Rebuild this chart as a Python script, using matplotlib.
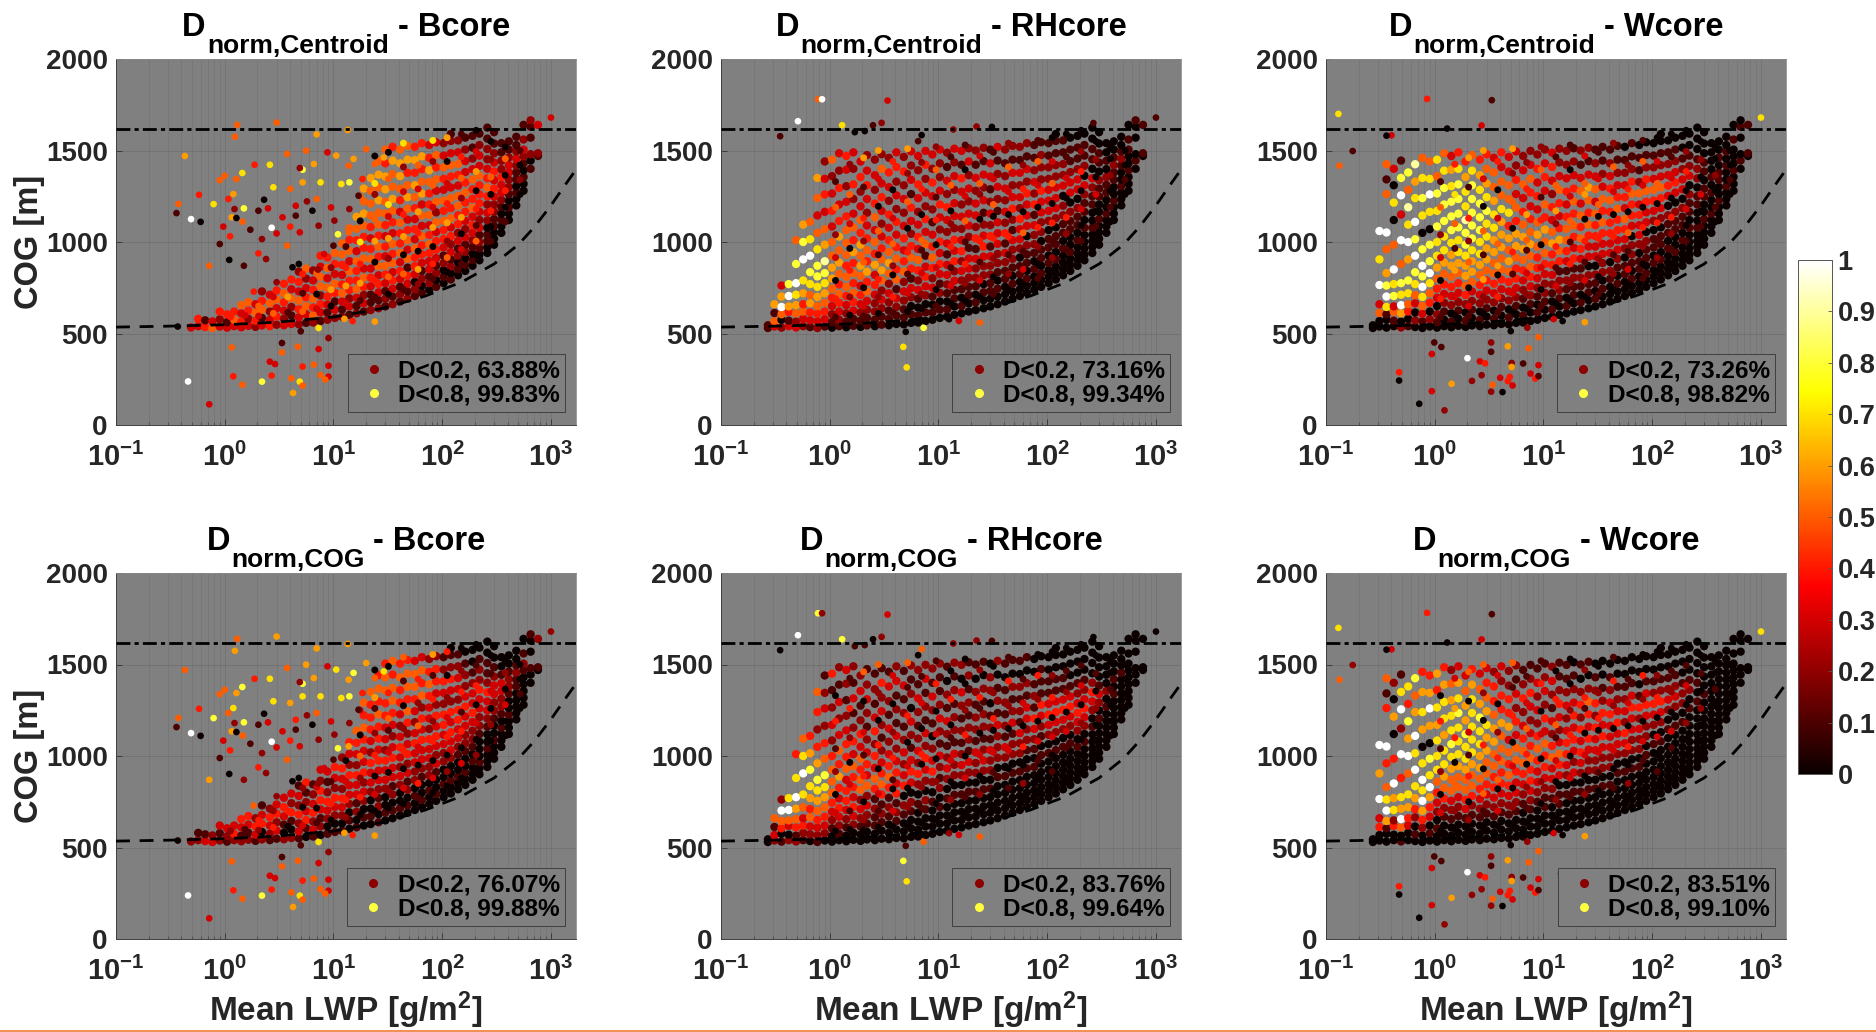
import matplotlib
matplotlib.use("Agg")
import matplotlib.pyplot as plt
from matplotlib.lines import Line2D
from matplotlib.cm import ScalarMappable
from matplotlib.colors import Normalize

plt.rcParams['font.family'] = ['Liberation Sans', 'DejaVu Sans']
plt.rcParams['font.weight'] = 'bold'
plt.rcParams['axes.labelweight'] = 'bold'
plt.rcParams['mathtext.fontset'] = 'custom'
plt.rcParams['mathtext.bf'] = 'Liberation Sans:bold'
plt.rcParams['mathtext.rm'] = 'Liberation Sans:bold'
plt.rcParams['mathtext.default'] = 'bf'

# dashed curve and dash-dot level
curve_lwp = [0.1, 0.3, 1, 3, 10, 30, 70, 150, 300, 500, 700, 1000, 1400, 1700, 1900]
curve_cog = [535, 540, 548, 562, 590, 640, 705, 780, 880, 985, 1080, 1200, 1325, 1395, 1440]
level_cog = 1620

# main cloud, column by column, bottom to top
cloud_lwp = [.27, .31, .36, .42, .49, .57, .66, .77, .9, 1.05, 1.22, 1.42, 1.65, 1.92, 2.2, 2.6, 3.0, 3.5,
             4.1, 4.8, 5.6, 6.5, 7.6, 8.8, 10.3, 12, 14, 16.3, 19, 22, 26, 30, 35, 41, 48, 56, 65, 76, 88,
             103, 120, 140, 163, 190, 220, 260, 300, 350, 410, 480, 560, 650, 760]
cloud_cog = [
    [530, 545],
    [538, 568, 612, 660, 765, 905, 1060],
    [532, 575, 605, 645, 702, 762, 830, 960, 1052, 1262, 1342, 1425],
    [540, 570, 618, 648, 705, 770, 850, 985, 1120, 1215, 1310, 1400],
    [533, 565, 610, 655, 712, 775, 880, 1010, 1150, 1255, 1350, 1445],
    [540, 580, 620, 660, 720, 790, 905, 1000, 1095, 1190, 1285, 1380, 1480],
    [535, 572, 615, 665, 710, 770, 835, 925, 1015, 1110, 1240, 1330, 1425],
    [530, 566, 608, 650, 700, 755, 812, 870, 960, 1050, 1145, 1240, 1350, 1460],
    [538, 578, 620, 668, 720, 775, 830, 895, 985, 1070, 1165, 1260, 1345, 1440],
    [532, 562, 605, 650, 695, 745, 800, 860, 925, 1000, 1085, 1170, 1265, 1360, 1450],
    [540, 575, 620, 668, 716, 768, 826, 888, 955, 1030, 1115, 1205, 1295, 1390, 1485],
    [534, 565, 610, 655, 705, 755, 810, 870, 930, 995, 1065, 1140, 1220, 1305, 1395, 1470],
    [542, 580, 625, 672, 722, 775, 830, 885, 945, 1010, 1080, 1155, 1235, 1315, 1400, 1490],
    [536, 570, 615, 660, 710, 760, 815, 870, 925, 985, 1050, 1120, 1195, 1275, 1355, 1440],
    [544, 585, 630, 678, 730, 782, 838, 895, 955, 1020, 1090, 1160, 1235, 1310, 1390, 1475],
    [540, 575, 620, 665, 712, 765, 820, 875, 935, 1000, 1065, 1135, 1210, 1285, 1365, 1450],
    [548, 592, 638, 685, 735, 790, 845, 905, 965, 1030, 1100, 1170, 1245, 1320, 1400, 1480],
    [545, 580, 625, 670, 720, 772, 828, 885, 945, 1010, 1078, 1150, 1225, 1300, 1380, 1460],
    [552, 598, 645, 692, 742, 795, 850, 910, 972, 1040, 1110, 1180, 1255, 1330, 1410, 1490],
    [550, 588, 632, 680, 730, 782, 838, 895, 955, 1020, 1088, 1160, 1235, 1310, 1385, 1465],
    [558, 605, 650, 698, 748, 800, 855, 915, 978, 1045, 1115, 1188, 1262, 1340, 1418, 1495],
    [560, 598, 642, 690, 738, 790, 845, 902, 962, 1028, 1095, 1165, 1240, 1315, 1392, 1470],
    [568, 615, 660, 708, 758, 810, 865, 925, 988, 1055, 1125, 1195, 1270, 1345, 1422, 1498],
    [575, 615, 658, 702, 750, 802, 858, 915, 975, 1040, 1108, 1178, 1250, 1325, 1400, 1478],
    [585, 630, 675, 722, 772, 825, 880, 940, 1002, 1068, 1135, 1205, 1280, 1355, 1430, 1505],
    [592, 632, 675, 720, 768, 820, 875, 932, 992, 1055, 1120, 1190, 1262, 1335, 1410, 1488],
    [602, 648, 692, 738, 788, 840, 895, 952, 1012, 1075, 1142, 1212, 1285, 1360, 1435, 1510],
    [610, 650, 695, 742, 790, 842, 895, 950, 1010, 1072, 1138, 1205, 1275, 1348, 1422, 1498],
    [620, 665, 710, 755, 805, 855, 910, 968, 1028, 1090, 1155, 1222, 1292, 1365, 1440, 1512],
    [628, 670, 712, 758, 805, 855, 908, 962, 1020, 1082, 1145, 1210, 1280, 1350, 1422, 1500],
    [638, 682, 725, 770, 818, 868, 920, 975, 1035, 1095, 1160, 1228, 1298, 1368, 1442, 1515],
    [648, 690, 732, 775, 822, 870, 922, 975, 1032, 1092, 1155, 1220, 1288, 1358, 1430, 1505],
    [660, 702, 745, 790, 835, 885, 935, 990, 1048, 1108, 1170, 1235, 1302, 1372, 1445, 1520],
    [675, 715, 755, 798, 842, 890, 940, 992, 1048, 1105, 1165, 1228, 1292, 1360, 1430, 1505],
    [690, 730, 772, 815, 860, 908, 958, 1010, 1065, 1122, 1182, 1245, 1310, 1378, 1450, 1525],
    [705, 742, 782, 824, 868, 915, 965, 1015, 1070, 1125, 1185, 1245, 1310, 1378, 1448, 1520],
    [722, 760, 800, 842, 886, 932, 982, 1032, 1088, 1145, 1205, 1265, 1330, 1398, 1468, 1540],
    [738, 775, 812, 852, 895, 940, 988, 1038, 1092, 1148, 1205, 1265, 1328, 1392, 1460, 1530],
    [755, 792, 830, 870, 912, 958, 1005, 1055, 1108, 1162, 1220, 1280, 1342, 1408, 1475, 1545],
    [775, 810, 846, 885, 926, 970, 1016, 1065, 1116, 1170, 1226, 1285, 1345, 1408, 1472, 1540],
    [795, 830, 866, 905, 945, 988, 1032, 1080, 1130, 1185, 1240, 1298, 1358, 1420, 1485, 1552, 1590],
    [818, 852, 888, 925, 965, 1006, 1050, 1098, 1146, 1198, 1252, 1308, 1366, 1426, 1490, 1555],
    [842, 875, 910, 946, 985, 1026, 1070, 1115, 1165, 1216, 1270, 1325, 1382, 1442, 1505, 1570],
    [870, 902, 936, 972, 1010, 1050, 1092, 1138, 1186, 1236, 1288, 1342, 1398, 1456, 1516, 1580],
    [900, 932, 965, 1000, 1038, 1078, 1120, 1165, 1212, 1260, 1310, 1362, 1416, 1472, 1530, 1592],
    [940, 972, 1005, 1040, 1078, 1118, 1160, 1205, 1250, 1298, 1348, 1400, 1452, 1508, 1565, 1625],
    [985, 1018, 1052, 1088, 1125, 1165, 1205, 1248, 1292, 1338, 1385, 1434, 1485, 1538, 1600],
    [1050, 1085, 1120, 1155, 1192, 1230, 1270, 1312, 1355, 1398, 1444, 1490, 1540],
    [1120, 1155, 1190, 1226, 1262, 1300, 1340, 1380, 1420, 1462, 1505, 1550],
    [1200, 1235, 1270, 1305, 1342, 1380, 1418, 1455, 1495, 1530, 1575],
    [1280, 1318, 1355, 1392, 1430, 1468, 1505, 1560, 1640],
    [1400, 1445, 1480, 1570, 1630, 1665],
    [1470, 1485, 1640],
]

# D of the cloud points in tenths (a = 1.0), one string per column; a shorter string
# means that the panel has no points higher up in that column
d_cloud_centroid_b = [
    "", "", "", "", "3", "34", "41", "53", "324", "314", "354", "3435", "3245", "2453", "31542", "43253", "24354",
    "323454", "312534", "2345342", "1354325", "2545432", "13425534", "21345354", "23145345", "213543455",
    "1324453545", "21354453456", "1324535445656", "21134354345556", "213435454556565", "1213453434556645",
    "2134354534565564", "1213435445345665", "2134153543565465", "1203445343456464", "1021344535365464",
    "0213345435445643", "1021344352535453", "0102134454534532", "10213243545345321", "0102132445534532",
    "0102132344543321", "0101234354453211", "0012132344453321", "0011023245432211", "000112234343211",
    "0010123342211", "001012233211", "00101123211", "001012321", "102112", "123"]
d_cloud_cog_b = [
    "", "", "", "", "2", "21", "31", "32", "213", "123", "243", "2134", "2134", "1342", "20431", "12342", "13243",
    "201343", "201423", "1324231", "0143214", "1324321", "02134423", "10234213", "10234234", "102342342",
    "0102334234", "10213342345", "0102324334545", "01002334234445", "102123343445454", "0100233423344554",
    "0102133432345545", "0100232343234454", "0102132432454554", "0010223343234553", "0100123343425453",
    "0010223342334542", "0100132343423442", "0010022334423421", "00100233434234210", "0010012334423321",
    "0010012233432210", "0001012234332100", "0010001223342210", "0001001233421100", "000100122332100",
    "0001012233100", "000100122100", "00000112100", "000001210", "001001", "012"]
d_cloud_centroid_rh = [
    "11", "3516", "205a63", "3146a8", "32567a85", "235467a86", "1346578a75", "2345678875356", "13456789653432",
    "012345665534325", "123454565643423", "0123455455543234", "1134545464532423", "0123435656453243",
    "1123546454323432", "0122343645354232", "1123256543234352", "0112325654342342", "0123154543423243",
    "0112325434323242", "0102314542341323", "0101324534323423", "0102343153423243", "0101324543123423",
    "0102134342343223", "0101233132342312", "0011324342332323", "0101232432323413", "0011233123323232",
    "0101223142332312", "0010223432132312", "0011223142321331", "0010122333123213", "0001123142323212",
    "0010122312432312", "0001102334232312", "0010112033342312", "0001012231423211", "0010110223342221",
    "0001011023332211", "00010110233322110", "0000101122032211", "0001001120332110", "0000101120332110",
    "0000010112302110", "0000100112301100", "000010011201100", "0001001120100", "000100112100", "00010012100",
    "000100110", "010001", "011"]
d_cloud_cog_rh = [
    "00", "2315", "1045a2", "2035a7", "21456a74", "124357a75", "0235467864", "1234567864245", "02345678542321",
    "001234555423214", "012343464532312", "0012344354432123", "0023434453421312", "0012325545342132",
    "0012325343212321", "0011214534243121", "0012145432123241", "0001214543231231", "0012143432312132",
    "0001204323212131", "0001203431230212", "0000102423212312", "0001202342312132", "0000102432012312",
    "0001021231232112", "0000102321231201", "0000102231221212", "0000102321212302", "0000102312212121",
    "0000102231221201", "0000102321221201", "0000102231210220", "0000010222312102", "0000010231212101",
    "0000010221321201", "0000010223121201", "0000010122331201", "0000010123412100", "0000001012341110",
    "0000001023431100", "00000010234311000", "0000001023431100", "0000001023431000", "0000010234321000",
    "0000010234321000", "0000001023420000", "000000102310000", "0000001020000", "000000101000", "00000001000",
    "000000000", "000000", "000"]
d_cloud_centroid_w = [
    "00", "0053a7a", "0017a865a515", "015387a50703", "206a785a3a81", "1045786a7958", "0203578a8a769",
    "01357a8a807875", "020457a8807a75", "012034567787857", "001234567788875", "0102345667888763",
    "0012345677888874", "0102456678897764", "0012356678888875", "0102345677888764", "0012345667787654",
    "0102345566776553", "0012345566675534", "0102345656475533", "0012344566453423", "0101234566543532",
    "0012345565434532", "0101234456534342", "0012234556453432", "0101234465342343", "0012214564345322",
    "0101213455434322", "0011214345454321", "0101213454535312", "0011203345456312", "0101203344535321",
    "0010223345453211", "0001203344454321", "0010123344543211", "0001102345343210", "0010122034454211",
    "0001102334352110", "0010112033454210", "0001011023453210", "00010110234532100", "0000101120343210",
    "0001001120343210", "0000101120332100", "0000010112032100", "0000100110221000", "000010011011000",
    "0001001010000", "000100110100", "00010010100", "000100010", "010010", "011"]
d_cloud_cog_w = [
    "00", "0043a6a", "0016a754a415", "004276a40602", "105a674a2a71", "0034675a6847", "0102467a7a658",
    "00246a7a706764", "010346a7806a64", "001023457776746", "000124567767764", "0001235567877652",
    "0001235567778763", "0001345567786653", "0001245567777764", "0001234566778653", "0001234556676543",
    "0001234455665442", "0001234455564423", "0001234545364422", "0001233455342312", "0000123455432421",
    "0001234454323421", "0000123345423231", "0001123445342321", "0000123354231232", "0001103453234211",
    "0000102344323211", "0000103234343210", "0000102343424201", "0000102234345201", "0000102233424210",
    "0000102234342100", "0000102233343210", "0000010233432100", "0000010234232100", "0000010223343100",
    "0000010223241000", "0000001022343100", "0000000102342100", "00000001023421000", "0000000010232100",
    "0000000010232100", "0000000010221000", "0000000001021000", "0000000001010000", "000000000100000",
    "0000000000000", "000000000000", "00000000000", "000000000", "000000", "000"]

# more cloud points lying between the columns above
fill_lwp = [1.13, 1.53, 2.05, 2.8, 3.8, 5.2, 7, 9.5, 13, 17.6, 24, 32, 44, 60, 82, 111, 150, 205, 280, 380, 520]
fill_cog = [
    [590, 690, 790, 915, 1040, 1190, 1330],
    [600, 700, 845, 965, 1100, 1260, 1425],
    [595, 650, 750, 890, 1005, 1130, 1300, 1460],
    [610, 700, 795, 930, 1060, 1195, 1345, 1500],
    [615, 700, 820, 870, 990, 1130, 1285, 1440],
    [620, 720, 825, 945, 1075, 1220, 1375, 1510],
    [635, 715, 830, 955, 1010, 1150, 1290, 1435],
    [650, 740, 860, 985, 1120, 1245, 1395, 1520],
    [665, 760, 860, 975, 1100, 1170, 1310, 1465],
    [680, 775, 880, 1000, 1115, 1250, 1395, 1530],
    [700, 790, 890, 1005, 1125, 1260, 1320, 1470],
    [715, 810, 910, 1020, 1140, 1205, 1345, 1490],
    [740, 825, 930, 1030, 1150, 1275, 1410, 1540],
    [770, 850, 950, 1050, 1165, 1290, 1420],
    [800, 880, 975, 1080, 1190, 1310, 1440, 1555],
    [835, 915, 1005, 1105, 1210, 1320, 1440, 1570],
    [880, 960, 1045, 1135, 1240, 1350, 1465, 1590],
    [930, 1005, 1090, 1180, 1280, 1385, 1495, 1610],
    [1005, 1085, 1170, 1260, 1355, 1450, 1550],
    [1110, 1190, 1280, 1365, 1455, 1520],
    [1260, 1340, 1420, 1500],
]
d_fill_centroid_b = ["4", "3", "35", "53", "16", "514", "305", "062", "3641", "164705", "14065270", "05263750",
                     "15064327", "2604635", "14063527", "05264306", "13062541", "05140630", "1040520", "104050", "0201"]
d_fill_cog_b = ["2", "1", "24", "42", "04", "302", "103", "041", "2430", "042503", "03042160", "02031540",
                "03042015", "1403524", "03042416", "02043204", "03041420", "02030410", "0020310", "003020", "0100"]
d_fill_centroid_rh = ["1403251", "0240352", "13052416", "02415036", "14025304", "03140526", "02315042", "10304152",
                      "03142051", "02415301", "03140253", "10240531", "02140352", "0315042", "10240351", "02140530",
                      "01240310", "01030420", "0103020", "010200", "0100"]
d_fill_cog_rh = ["0302140", "0130241", "02041305", "01304025", "03014203", "02030415", "01204031", "00203041",
                 "02031040", "01304200", "02030142", "00130420", "01030241", "0204031", "00130240", "01030420",
                 "00130210", "00020310", "0002010", "000100", "0000"]
d_fill_centroid_w = ["1403251", "0361574", "13052416", "02615036", "14065304", "03140526", "02315642", "10304152",
                     "03142651", "02415301", "03140653", "10240531", "02140352", "0315042", "10240351", "02140530",
                     "01240310", "01030420", "0103020", "010200", "0100"]
d_fill_cog_w = ["0302140", "0250463", "02041305", "01504025", "03054203", "02030415", "01204531", "00203041",
                "02031540", "01304200", "02030142", "00130420", "01030241", "0204031", "00130240", "01030420",
                "00130210", "00020310", "0002010", "000100", "0000"]

# points outside the cloud, per core
out_b_lwp = [.375, .36, .43, .49, .6, .46, .72, .37, 1.3, 3, 1.24, 7, 13.5, .79, .58, .9, 1, 1.28, 1.45, 1.08, 1.2,
             1.16, 1.28, 1.23, 1.5, .97, 1.12, .9, 1.1, .72, 1.5, 1.46, 1.88, 2.6, 2.8, 2.3, 2.04, 2.5, 1.72, 2.2,
             2.04, 2.4, 2.7, 3, 3.75, 4, 3.4, 4.5, 4.5, 5.7, 7, 7.6, 5.2, 6.6, 5.6, 3.75, 4.9, 4, 5.2, 7.3, 4.9,
             6.4, 9.5, 10.2, 11, 8.2, 10, 4.2, 4.8, 7.2, 3, 1.85, 10.6, 8.8, 14, 15.3, 11.8, 13.8, 20, 29, 24,
             18.5, 17, 14, 13.8, 1.16, 3.36, 3.36, 4.7, 9, 7.3, 7.3, 5, 2.6, 2.9, 5.2, 6.6, 9, 14.6, 1.2, 1.45,
             2.2, 2.7, 4.1, 4.9, 5.2, 4.25, 7.6, 9, 8.4, 12.6, 15, 24, 1000]
out_b_cog = [1208, 1158, 1470, 1125, 1110, 238, 113, 538, 1640, 1653, 1575, 1588, 1612, 1207, 1258, 1338, 1362,
             1344, 1377, 1235, 1262, 1135, 1131, 1180, 1184, 1084, 1031, 989, 902, 870, 870, 1111, 1422, 1422,
             1299, 1231, 1171, 1184, 1067, 1016, 938, 907, 1078, 1047, 980, 1084, 1135, 1144, 1198, 1222, 1235,
             1326, 1395, 1426, 1499, 1481, 1404, 1290, 1326, 1089, 1053, 1171, 1189, 1117, 1042, 934, 980, 862,
             880, 849, 780, 729, 1472, 1490, 1326, 1454, 1317, 1417, 1508, 1462, 1426, 1344, 1253, 1180, 1053,
             424, 448, 397, 428, 475, 415, 530, 512, 346, 333, 319, 330, 324, 355, 266, 220, 237, 270, 255, 237,
             215, 175, 273, 264, 248, 580, 568, 565, 1680]
d_out_b_centroid = ("516a0a30" "55566" "7455574660283410515"
                    "4770131242a35431325786552562303283100224" "6386755654125"
                    "5155237133453245845756535646" "3")
d_out_b_cog = ("515a0a30" "56666" "8455685760283410625"
               "4770131242a35431425786652672303283100225" "7388766754126"
               "5155237133453245845756535646" "2")

out_rh_lwp = [.78, .85, 3.4, .51, 1.3, .35, 1.7, 3, 2.5, 2.1, 6.5, 7, 13.7, 22.4, 31, 266, 5, 4.75, 5.1, 7.3, 15.4,
              24, 12.5, 1000]
out_rh_cog = [1780, 1780, 1773, 1660, 1638, 1578, 1600, 1651, 1638, 1606, 1551, 1584, 1615, 1631, 1629, 1650, 509,
              427, 315, 531, 569, 560, 578, 1680]
d_out_rh_centroid = "5a3a71021010220107783501"
d_out_rh_cog = "823a80120105221018753520"

out_w_lwp = [.13, .133, .176, .85, 3.35, 2.7, 1.3, .4, .36, 5, .99, 1.15, 3.3, 3.3, 4.7, 7.3, 9, 7.1, .94, 2, 2.6,
             2.9, 5.1, 5.1, 6.5, 9, .47, .47, 1.43, 2.2, 2.7, 4, 3.4, 4.9, 4.7, 5.2, 7.6, 8.4, 9, 3.3, 4.2, .94,
             .72, 1.23, 14.5, 12.4, 15, 24, 1000]
out_w_cog = [1700, 1417, 1497, 1782, 1775, 1637, 1620, 1583, 1581, 513, 451, 426, 451, 400, 430, 419, 480, 532, 388,
             365, 348, 337, 339, 317, 336, 327, 288, 243, 225, 241, 272, 258, 220, 263, 240, 216, 281, 254, 267,
             182, 180, 185, 116, 80, 357, 579, 568, 562, 1680]
d_out_w_centroid = "7514130300112165523a342613406223544334120302130678" + "0"
d_out_w_cog = "7524130300112165523a342613406223544334120302130678" + "0"

titles_top = ["Centroid", "Centroid", "Centroid"]
titles_bottom = ["COG", "COG", "COG"]
core_names = ["Bcore", "RHcore", "Wcore"]
legend_d02 = [["63.88", "73.16", "73.26"], ["76.07", "83.76", "83.51"]]
legend_d08 = [["99.83", "99.34", "98.82"], ["99.88", "99.64", "99.10"]]
cbar_ticks = [0, 0.1, 0.2, 0.3, 0.4, 0.5, 0.6, 0.7, 0.8, 0.9, 1]
cbar_labels = ["0", "0.1", "0.2", "0.3", "0.4", "0.5", "0.6", "0.7", "0.8", "0.9", "1"]

W, H = 1876, 1032
text_col = '#262626'


def to_d(s):
    return [int(c, 16) / 10 for c in s]


def columns(lwp, cog, d):
    xs, ys, ds = [], [], []
    for x, col, s in zip(lwp, cog, d):
        for y, v in zip(col, to_d(s)):
            xs.append(x)
            ys.append(y)
            ds.append(v)
    return xs, ys, ds


def put_title(px, py, title, core):
    # D, subscript and core name are set one after the other, the subscript is bigger than mathtext allows
    r = fig.canvas.get_renderer()
    base = 1 - (py - 23) / H
    low = 1 - (py - 6) / H
    a = fig.text(0, base, "D", fontsize=23.5, color='k', va='baseline')
    b = fig.text(0, low, "norm," + title, fontsize=19, color='k', va='baseline')
    c = fig.text(0, base, "- " + core, fontsize=23.5, color='k', va='baseline')
    wa = a.get_window_extent(r).width
    wb = b.get_window_extent(r).width
    wc = c.get_window_extent(r).width
    x = px + 230 - (wa + wb + wc + 10) / 2
    a.set_x(x / W)
    b.set_x((x + wa + 1) / W)
    c.set_x((x + wa + wb + 10) / W)


def panel(px, py, cloud_d, fill_d, o_lwp, o_cog, o_d, title, core, p02, p08, ylab, xlab):
    ax = fig.add_axes([px / W, 1 - (py + 366) / H, 460 / W, 366 / H])
    ax.set_facecolor('#808080')

    xs, ys, ds = columns(cloud_lwp, cloud_cog, cloud_d)
    ax.scatter(xs, ys, c=ds, s=36, cmap='hot', vmin=0, vmax=1, linewidths=0, zorder=3)
    xs, ys, ds = columns(fill_lwp, fill_cog, fill_d)
    ax.scatter(xs, ys, c=ds, s=25, cmap='hot', vmin=0, vmax=1, linewidths=0, zorder=3)
    ax.scatter(o_lwp, o_cog, c=to_d(o_d)[:len(o_lwp)], s=23, cmap='hot', vmin=0, vmax=1, linewidths=0, zorder=3)

    ax.plot(curve_lwp, curve_cog, color='k', ls=(0, (5, 3.5)), lw=2, zorder=4)
    ax.axhline(level_cog, color='k', ls=(0, (5, 1.5, 1.5, 1.5)), lw=2, zorder=4)

    ax.set_xscale('log')
    ax.set_xlim(0.1, 1700)
    ax.set_ylim(0, 2000)
    ax.set_yticks([0, 500, 1000, 1500, 2000])
    ax.set_xticks([0.1, 1, 10, 100, 1000])
    ax.set_xticklabels([r"$10^{-1}$", r"$10^{0}$", r"$10^{1}$", r"$10^{2}$", r"$10^{3}$"])
    ax.tick_params(axis='y', which='major', labelsize=20, labelcolor=text_col, length=4, width=0.6,
                   direction='in', color='#333333', pad=6)
    ax.tick_params(axis='x', which='major', labelsize=21, labelcolor=text_col, length=4, width=0.6,
                   direction='in', color='#333333', pad=13)
    ax.tick_params(axis='x', which='minor', length=2, width=0.4, direction='in', color='#333333', labelbottom=False)
    ax.grid(which='major', color='k', alpha=0.1, lw=0.7)
    ax.grid(which='minor', axis='x', color='k', alpha=0.08, lw=0.6)
    ax.set_axisbelow(True)
    for side in ['top', 'right']:
        ax.spines[side].set_color('#8a8a8a')
        ax.spines[side].set_linewidth(0.6)
    for side in ['left', 'bottom']:
        ax.spines[side].set_color('#404040')
        ax.spines[side].set_linewidth(0.7)

    put_title(px, py, title, core)
    if ylab:
        ax.set_ylabel("COG [m]", fontsize=23.5, color=text_col)
        ax.yaxis.set_label_coords((45 - px) / 460, 0.5)
    if xlab:
        ax.set_xlabel(r"Mean LWP [g/m$^{2}$]", fontsize=24, color=text_col, labelpad=2)

    handles = [Line2D([], [], ls='', marker='o', ms=6.5, mec='none', mfc='#8b0000'),
               Line2D([], [], ls='', marker='o', ms=6.5, mec='none', mfc='#ffff40')]
    leg = ax.legend(handles, ["D<0.2, %s%%" % p02, "D<0.8, %s%%" % p08], loc='lower right',
                    bbox_to_anchor=(0.977, 0.035), fontsize=17.6, labelcolor='k', facecolor='#808080',
                    edgecolor='#404040', framealpha=1, fancybox=False, borderpad=0.22, labelspacing=0.05,
                    handletextpad=0.15, handlelength=1.7, borderaxespad=0)
    leg.get_frame().set_linewidth(0.7)
    leg.set_zorder(5)


fig = plt.figure(figsize=(W / 100, H / 100), dpi=100)

col_x = [116, 721, 1326]
row_y = [59, 573]
panel(col_x[0], row_y[0], d_cloud_centroid_b, d_fill_centroid_b, out_b_lwp, out_b_cog, d_out_b_centroid,
      titles_top[0], core_names[0], legend_d02[0][0], legend_d08[0][0], True, False)
panel(col_x[1], row_y[0], d_cloud_centroid_rh, d_fill_centroid_rh, out_rh_lwp, out_rh_cog, d_out_rh_centroid,
      titles_top[1], core_names[1], legend_d02[0][1], legend_d08[0][1], False, False)
panel(col_x[2], row_y[0], d_cloud_centroid_w, d_fill_centroid_w, out_w_lwp, out_w_cog, d_out_w_centroid,
      titles_top[2], core_names[2], legend_d02[0][2], legend_d08[0][2], False, False)
panel(col_x[0], row_y[1], d_cloud_cog_b, d_fill_cog_b, out_b_lwp, out_b_cog, d_out_b_cog,
      titles_bottom[0], core_names[0], legend_d02[1][0], legend_d08[1][0], True, True)
panel(col_x[1], row_y[1], d_cloud_cog_rh, d_fill_cog_rh, out_rh_lwp, out_rh_cog, d_out_rh_cog,
      titles_bottom[1], core_names[1], legend_d02[1][1], legend_d08[1][1], False, True)
panel(col_x[2], row_y[1], d_cloud_cog_w, d_fill_cog_w, out_w_lwp, out_w_cog, d_out_w_cog,
      titles_bottom[2], core_names[2], legend_d02[1][2], legend_d08[1][2], False, True)

cax = fig.add_axes([1798 / W, 1 - 774 / H, 34 / W, 514 / H])
cb = fig.colorbar(ScalarMappable(Normalize(0, 1), 'hot'), cax=cax, ticks=cbar_ticks)
cb.ax.set_yticklabels(cbar_labels)
cb.ax.tick_params(labelsize=19.5, labelcolor=text_col, length=3, width=0.6, direction='in', color='#555555', pad=4)
cb.outline.set_edgecolor('#555555')
cb.outline.set_linewidth(0.7)

# orange rule along the bottom edge of the page
fig.add_artist(Line2D([0, 1], [1.5 / H, 1.5 / H], color='#ed7d31', lw=1.2))

fig.savefig("out.png", dpi=100)
